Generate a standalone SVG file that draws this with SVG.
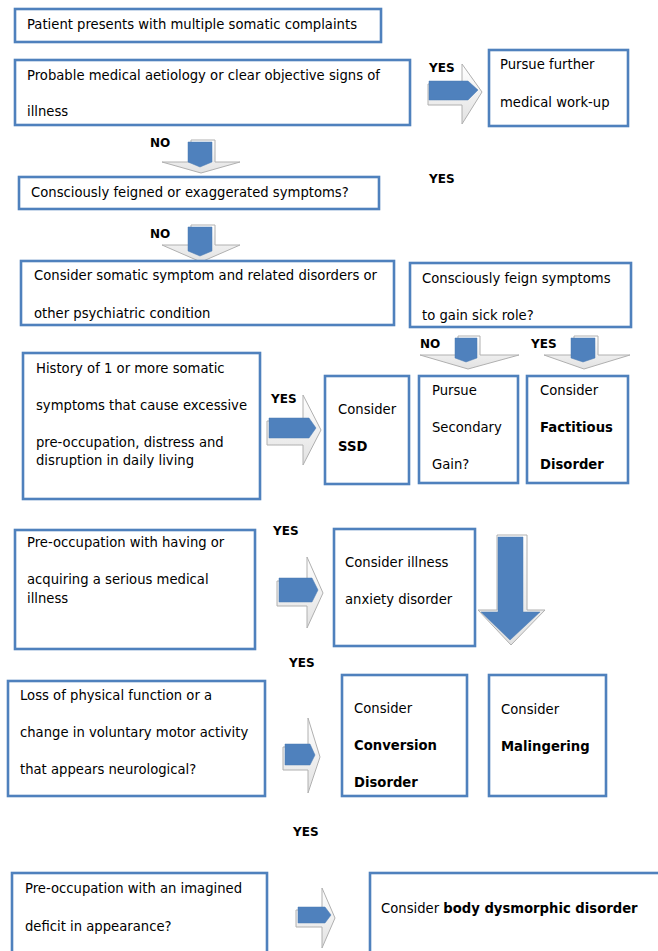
<svg xmlns="http://www.w3.org/2000/svg" width="658" height="951" viewBox="0 0 658 951">
<defs>
<linearGradient id="shade" x1="0" y1="0" x2="0" y2="1">
<stop offset="0" stop-color="#ffffff"/>
<stop offset="1" stop-color="#e2e2e2"/>
</linearGradient>
</defs>
<style>
.box{fill:#ffffff;stroke:#4f81bd;stroke-width:2.6}
.t{font-family:"DejaVu Sans",Verdana,sans-serif;font-size:13.2px;fill:#000}
.b{font-weight:bold}
.lbl{font-family:"DejaVu Sans",Verdana,sans-serif;font-size:12px;font-weight:bold;fill:#000}
.sh{fill:url(#shade);stroke:#b0b0b0;stroke-width:1}
.ar{fill:#4f81bd;stroke:#4a7ab3;stroke-width:0.5}
</style>
<rect width="658" height="951" fill="#ffffff"/>

<g id="connectors">
<!-- R1 -->
<polygon class="sh" points="428,84 462,84 462,64 482,92 462,124 462,105 428,105"/>
<polygon class="ar" points="429,81 468,81 478,90 468,100 429,100"/>
<!-- R2 -->
<polygon class="sh" points="267,421 303,421 303,395 321,430 303,465 303,445 267,445"/>
<polygon class="ar" points="269,418 309,418 316,428 309,438 269,438"/>
<!-- R3 -->
<polygon class="sh" points="277,581 307,581 307,557 323,593 307,628 307,606 277,606"/>
<polygon class="ar" points="279,578 312,578 318,590 312,602 279,602"/>
<!-- R4 -->
<polygon class="sh" points="283,747 308,747 308,718 320,757 308,793 308,770 283,770"/>
<polygon class="ar" points="285,744 310,744 315,755 310,765 285,765"/>
<!-- R5 -->
<polygon class="sh" points="296,910 322,910 322,888 335,918 322,948 322,927 296,927"/>
<polygon class="ar" points="298,907 325,907 331,915 325,923 298,923"/>
<!-- D1 -->
<polygon class="sh" points="191,140 215,140 215,162 240,162 201,173 162,162 191,162"/>
<polygon class="ar" points="188,142 212,142 212,162 200,167 188,162"/>
<!-- D2 -->
<polygon class="sh" points="191,225 215,225 215,245 240,245 201,262 162,245 191,245"/>
<polygon class="ar" points="188,227 212,227 212,251 200,256 188,251"/>
<!-- D3 -->
<polygon class="sh" points="458,336 480,336 480,355 519,355 468,369 420,355 458,355"/>
<polygon class="ar" points="455,338 477,338 477,358 466,362 455,358"/>
<!-- D4 -->
<polygon class="sh" points="574,336 598,336 598,355 630,355 584,369 544,355 574,355"/>
<polygon class="ar" points="571,338 595,338 595,358 583,362 571,358"/>
<!-- D5 big -->
<polygon class="sh" points="497,535 527,535 527,610 545,610 511,645 478,610 497,610"/>
<polygon class="ar" points="498,537 523,537 523,612 540,612 510,640 481,612 498,612"/>

<text class="lbl" x="429" y="72">YES</text>
<text class="lbl" x="150" y="147">NO</text>
<text class="lbl" x="429" y="183">YES</text>
<text class="lbl" x="150" y="238">NO</text>
<text class="lbl" x="420" y="348">NO</text>
<text class="lbl" x="531" y="348">YES</text>
<text class="lbl" x="271" y="403">YES</text>
<text class="lbl" x="273" y="535">YES</text>
<text class="lbl" x="289" y="667">YES</text>
<text class="lbl" x="293" y="836">YES</text>
</g>

<g id="n1">
<rect class="box" x="15" y="9" width="366" height="33"/>
<text class="t" x="27" y="29">Patient presents with multiple somatic complaints</text>
</g>
<g id="n2">
<rect class="box" x="15" y="60" width="395" height="65"/>
<text class="t" x="27" y="80">Probable medical aetiology or clear objective signs of</text>
<text class="t" x="27" y="116">illness</text>
</g>
<g id="n3">
<rect class="box" x="489" y="50" width="139" height="76"/>
<text class="t" x="500" y="69">Pursue further</text>
<text class="t" x="500" y="107">medical work-up</text>
</g>
<g id="n4">
<rect class="box" x="19" y="177" width="360" height="32"/>
<text class="t" x="31" y="197">Consciously feigned or exaggerated symptoms?</text>
</g>
<g id="n5">
<rect class="box" x="21" y="261" width="373" height="64"/>
<text class="t" x="34" y="280">Consider somatic symptom and related disorders or</text>
<text class="t" x="34" y="318">other psychiatric condition</text>
</g>
<g id="n6">
<rect class="box" x="410" y="263" width="221" height="64"/>
<text class="t" x="422" y="283">Consciously feign symptoms</text>
<text class="t" x="422" y="320">to gain sick role?</text>
</g>
<g id="n7">
<rect class="box" x="23" y="353" width="237" height="146"/>
<text class="t" x="36" y="373">History of 1 or more somatic</text>
<text class="t" x="36" y="410">symptoms that cause excessive</text>
<text class="t" x="36" y="447">pre-occupation, distress and</text>
<text class="t" x="36" y="465">disruption in daily living</text>
</g>
<g id="n8">
<rect class="box" x="325" y="376" width="84" height="108"/>
<text class="t" x="338" y="414">Consider</text>
<text class="t b" x="338" y="451">SSD</text>
</g>
<g id="n9">
<rect class="box" x="419" y="376" width="99" height="107"/>
<text class="t" x="432" y="395">Pursue</text>
<text class="t" x="432" y="432">Secondary</text>
<text class="t" x="432" y="469">Gain?</text>
</g>
<g id="n10">
<rect class="box" x="527" y="376" width="101" height="107"/>
<text class="t" x="540" y="395">Consider</text>
<text class="t b" x="540" y="432">Factitious</text>
<text class="t b" x="540" y="469">Disorder</text>
</g>
<g id="n11">
<rect class="box" x="15" y="530" width="240" height="119"/>
<text class="t" x="27" y="547">Pre-occupation with having or</text>
<text class="t" x="27" y="584">acquiring a serious medical</text>
<text class="t" x="27" y="603">illness</text>
</g>
<g id="n12">
<rect class="box" x="334" y="529" width="141" height="117"/>
<text class="t" x="345" y="567">Consider illness</text>
<text class="t" x="345" y="604">anxiety disorder</text>
</g>
<g id="n13">
<rect class="box" x="8" y="681" width="257" height="115"/>
<text class="t" x="20" y="700">Loss of physical function or a</text>
<text class="t" x="20" y="737">change in voluntary motor activity</text>
<text class="t" x="20" y="774">that appears neurological?</text>
</g>
<g id="n14">
<rect class="box" x="342" y="675" width="125" height="121"/>
<text class="t" x="354" y="713">Consider</text>
<text class="t b" x="354" y="750">Conversion</text>
<text class="t b" x="354" y="787">Disorder</text>
</g>
<g id="n15">
<rect class="box" x="489" y="675" width="117" height="121"/>
<text class="t" x="501" y="714">Consider</text>
<text class="t b" x="501" y="751">Malingering</text>
</g>
<g id="n16">
<rect class="box" x="12" y="873" width="255" height="100"/>
<text class="t" x="25" y="893">Pre-occupation with an imagined</text>
<text class="t" x="25" y="931">deficit in appearance?</text>
</g>
<g id="n17">
<rect class="box" x="370" y="873" width="310" height="100"/>
<text class="t" x="381" y="913">Consider <tspan class="b">body dysmorphic disorder</tspan></text>
</g>
</svg>
